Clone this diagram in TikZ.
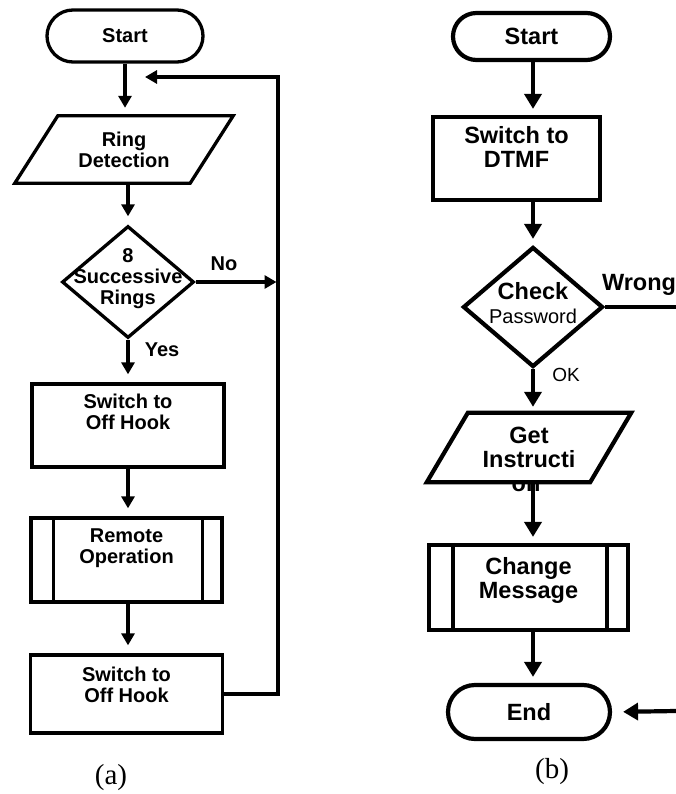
\documentclass[tikz,border=0pt]{standalone}
\usepackage{fontspec}
\setmainfont{Liberation Serif}
\newfontfamily\arialfont{Liberation Sans}
\usetikzlibrary{shapes.geometric,arrows.meta}

\begin{document}
\begin{tikzpicture}[x=1pt,y=-1pt,auto=center,
		fa/.style={font=\arialfont\bfseries\fontsize{20}{21}\selectfont},
		fb/.style={font=\arialfont\bfseries\fontsize{23.5}{24.5}\selectfont},
		fthin/.style={font=\arialfont\fontsize{19}{20}\selectfont},
		shapeA/.style={draw,line width=3.3pt,inner sep=0pt},
		shapeB/.style={draw,line width=4.2pt,inner sep=0pt},
		toptext/.style={anchor=north,align=center,inner sep=0pt},
		lineA/.style={line width=3.3pt},
		lineB/.style={line width=4.2pt},
		arrA/.style={lineA,-{Triangle[width=13pt,length=12pt]},shorten >=8pt},
		arrB/.style={lineB,-{Triangle[width=17pt,length=15pt]},shorten >=6pt}]
			\useasboundingbox (0,0) rectangle (676,794);

			% (a)
			\node[shapeA,fa,rounded corners=26pt,minimum width=156,minimum height=52] (startA) at (125,36) {Start};
			\node[fa,align=center,inner sep=0pt,minimum width=175,minimum height=67] (ring) at (124,149.5) {Ring\\Detection};
			\draw[lineA] ([xshift=21.5pt]ring.north west) -- ([xshift=21.5pt]ring.north east) -- ([xshift=-21.5pt]ring.south east) -- ([xshift=-21.5pt]ring.south west) -- cycle;
			\node[shapeA,diamond,minimum width=132,minimum height=112,label={[fa,align=center,yshift=3pt]center:8\\Successive\\Rings}] (rings) at (128,282) {};
			\node[fa] (no) at (224,264) {No};
			\node[fa] (yes) at (162,350) {Yes};
			\node[shapeA,minimum width=192,minimum height=83,label={[toptext,fa,yshift=-11pt]north:Switch to\\Off Hook}] (offA) at (128,425.5) {};
			\node[shapeA,minimum width=191,minimum height=84,label={[toptext,fa,yshift=-12pt]north:Remote\\Operation}] (remote) at (126.5,560) {};
			\draw[lineA] ([xshift=24pt]remote.north west) -- ([xshift=24pt]remote.south west)
				([xshift=-21pt]remote.north east) -- ([xshift=-21pt]remote.south east);
			\node[shapeA,minimum width=192,minimum height=78,label={[toptext,fa,yshift=-13pt]north:Switch to\\Off Hook}] (offB) at (126.5,694) {};
			\coordinate (loopR) at (278,77);
			\coordinate (loopIn) at (145,77);
			\draw[arrA] (startA.south) -- (startA |- ring.north);
			\draw[arrA] (rings |- ring.south) -- (rings.north);
			\draw[arrA] (rings.south) -- (rings |- offA.north);
			\draw[arrA] (offA.south) -- (offA |- remote.north);
			\draw[arrA] (offA |- remote.south) -- (offA |- offB.north);
			\draw[arrA,shorten >=1.5pt] (rings.east) -- (rings.east -| loopR);
			\draw[arrA,shorten >=0pt] (offB.east) -| (loopR) -- (loopIn);
			\node[font=\fontsize{29}{32}\selectfont] (capA) at (111,778) {(a)};

			% (b)
			\node[shapeB,fb,rounded corners=23.5pt,minimum width=157,minimum height=47] (startB) at (531.5,36.5) {Start};
			\node[shapeB,minimum width=167,minimum height=83,label={[toptext,fb,yshift=-11pt]north:Switch to\\DTMF}] (dtmf) at (516.5,158.5) {};
			\node[shapeB,diamond,minimum width=140,minimum height=120,label={[fb,align=center,yshift=4pt]center:Check\\{\mdseries\fontsize{20}{21}\selectfont Password}}] (chk) at (533,307) {};
			\node[fb] (wrong) at (639,285) {Wrong};
			\node[fthin] (ok) at (566,375) {OK};
			\coordinate (wrongEnd) at (676,307);
			\draw[lineB] (chk.east) -- (wrongEnd);
			\node[fb,align=center,inner sep=0pt,minimum width=163,minimum height=69] (get) at (529,447.5) {Get\\Instructi};
			\draw[lineB] ([xshift=20.5pt]get.north west) -- ([xshift=20.5pt]get.north east) -- ([xshift=-20.5pt]get.south east) -- ([xshift=-20.5pt]get.south west) -- cycle;
			\begin{scope}
				\clip (440,484.5) rectangle (620,500);
				\node[fb,anchor=base,inner sep=0pt] (getRest) at (526,491) {on};
			\end{scope}
			\node[shapeB,minimum width=199,minimum height=85,label={[toptext,fb,yshift=-14pt]north:Change\\Message}] (change) at (528.5,587.5) {};
			\draw[lineB] ([xshift=26pt]change.north west) -- ([xshift=26pt]change.south west)
				([xshift=-23pt]change.north east) -- ([xshift=-23pt]change.south east);
			\node[shapeB,fb,rounded corners=27pt,minimum width=162,minimum height=54] (endB) at (529,712) {End};
			\coordinate (endIn) at (676,711);
			\draw[arrB] (chk |- startB.south) -- (chk |- dtmf.north);
			\draw[arrB] (chk |- dtmf.south) -- (chk.north);
			\draw[arrB] (chk.south) -- (chk |- get.north);
			\draw[arrB] (chk |- get.south) -- (chk |- change.north);
			\draw[arrB] (chk |- change.south) -- (chk |- endB.north);
			\draw[arrB,shorten >=11pt] (endIn) -- (endB.east);
			\node[font=\fontsize{29}{32}\selectfont] (capB) at (552,772) {(b)};
		\end{tikzpicture}
\end{document}
